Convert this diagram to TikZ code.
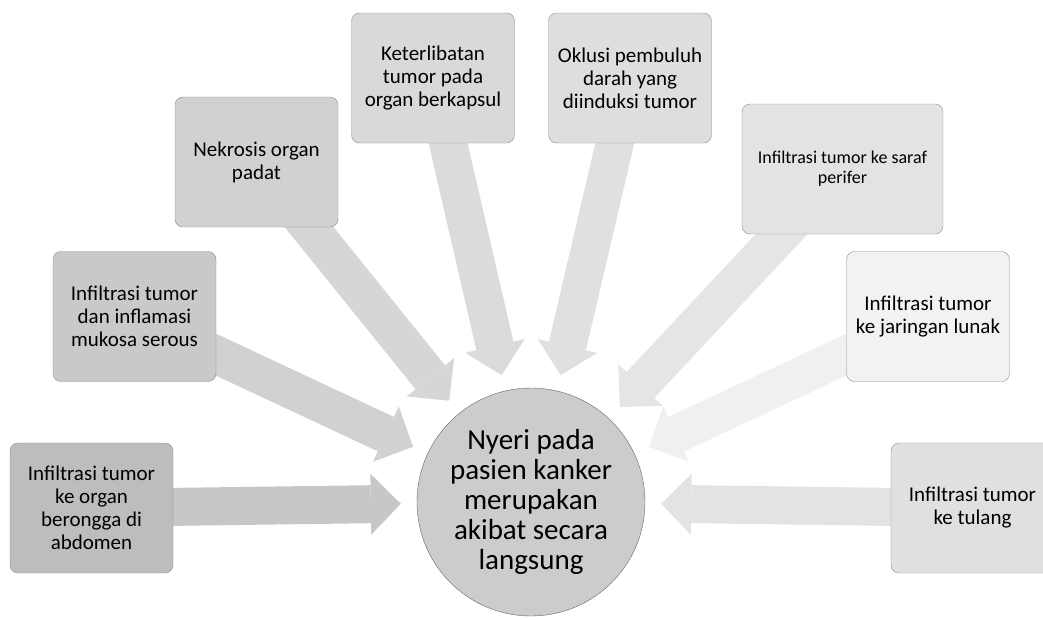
\documentclass[tikz,border=0pt]{standalone}
\usepackage{fontspec}
\setmainfont{Carlito}
\usetikzlibrary{arrows.meta,backgrounds}
\begin{document}
\begin{tikzpicture}[x=1pt, y=-1pt,
    box/.style={draw=black!45, rounded corners=8pt, minimum width=163pt, minimum height=130pt,
        align=center, inner sep=2pt, font=\fontsize{21}{23}\selectfont},
    hub/.style={circle, draw=black!60, fill=black!20, minimum size=228pt, inner sep=0pt,
        align=center, font=\fontsize{29}{30}\selectfont},
    flow/.style={line width=38pt, -{Triangle[width=61pt, length=30pt, line width=0pt]}, shorten >=16pt}]
    \useasboundingbox (0,0) rectangle (1043,619);

    % penyebab
    \node[box, fill=black!26] (organ) at (91.5,508) {Infiltrasi tumor\\ke organ\\berongga di\\abdomen};
    \node[box, fill=black!21] (serous) at (134.5,316.5) {Infiltrasi tumor\\dan inflamasi\\mukosa serous};
    \node[box, fill=black!18] (nekrosis) at (256.5,162) {Nekrosis organ\\padat};
    \node[box, fill=black!15] (kapsul) at (433,78) {Keterlibatan\\tumor pada\\organ berkapsul};
    \node[box, fill=black!13] (oklusi) at (630,78) {Oklusi pembuluh\\darah yang\\diinduksi tumor};
    \node[box, fill=black!11, minimum width=201pt, font=\fontsize{18}{20}\selectfont] (saraf) at (842.5,169) {Infiltrasi tumor ke saraf\\perifer};
    \node[box, fill=black!5] (lunak) at (928,316.5) {Infiltrasi tumor\\ke jaringan lunak};
    \node[box, fill=black!12] (tulang) at (972.5,508) {Infiltrasi tumor\\ke tulang};

    % pusat
    \node[hub] (nyeri) at (531,502) {Nyeri pada\\pasien kanker\\merupakan\\akibat secara\\langsung};

    % panah
    \begin{scope}[on background layer]
        \draw[flow, black!22] (organ.center) -- (nyeri);
        \draw[flow, black!18] (serous.center) -- (nyeri);
        \draw[flow, black!16] (nekrosis.center) -- (nyeri);
        \draw[flow, black!14] (kapsul.center) -- (nyeri);
        \draw[flow, black!12] (oklusi.center) -- (nyeri);
        \draw[flow, black!10] (saraf.center) -- (nyeri);
        \draw[flow, black!6] (lunak.center) -- (nyeri);
        \draw[flow, black!11] (tulang.center) -- (nyeri);
    \end{scope}
\end{tikzpicture}
\end{document}
